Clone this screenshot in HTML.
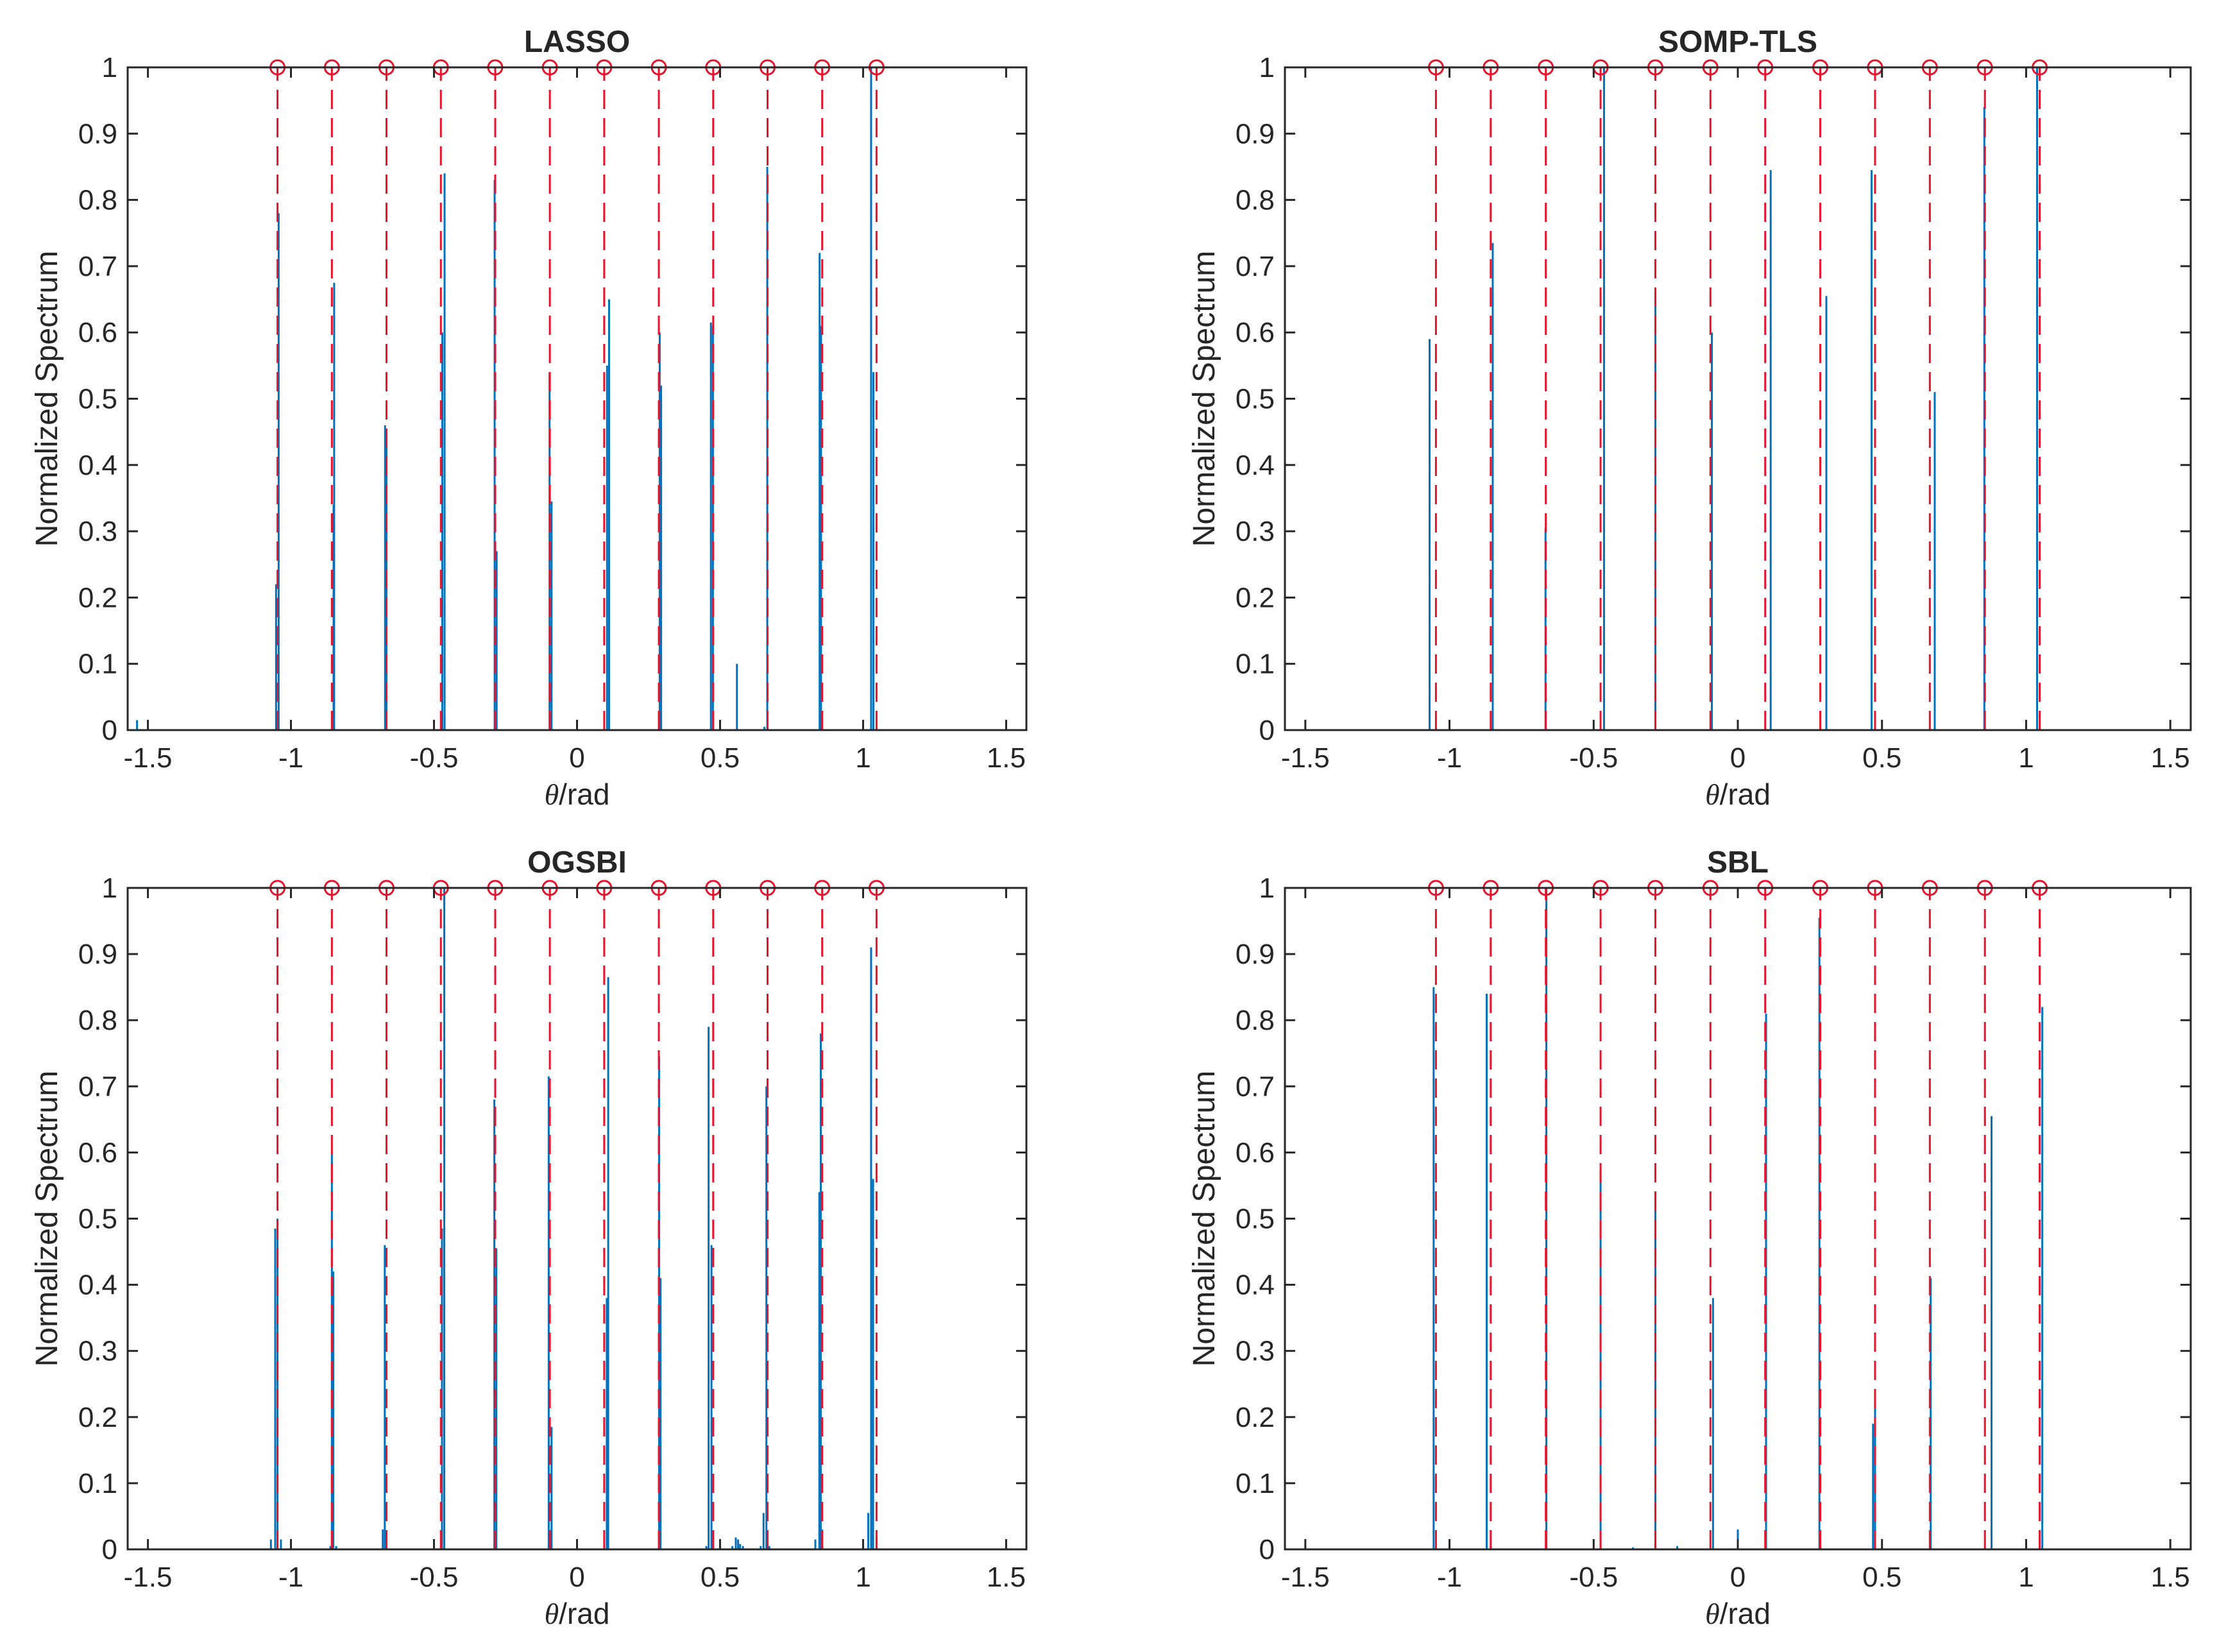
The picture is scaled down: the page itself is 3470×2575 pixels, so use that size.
<!DOCTYPE html>
<html><head><meta charset="utf-8"><style>
html,body{margin:0;padding:0;background:#fff;}
svg{display:block;}
text{font-family:"Liberation Sans","DejaVu Sans",sans-serif;fill:#262626;}
</style></head><body>
<svg id="fig" width="3470" height="2575" viewBox="0 0 3470 2575" xmlns="http://www.w3.org/2000/svg"></svg>
<script>
const trueDOAs=[-1.047,-0.857,-0.666,-0.476,-0.286,-0.095,0.095,0.286,0.476,0.666,0.857,1.047];
const xTicks=[-1.5,-1,-0.5,0,0.5,1,1.5];
const xTickLabels=["-1.5","-1","-0.5","0","0.5","1","1.5"];
const yTicks=[0,0.1,0.2,0.3,0.4,0.5,0.6,0.7,0.8,0.9,1];
const yTickLabels=["0","0.1","0.2","0.3","0.4","0.5","0.6","0.7","0.8","0.9","1"];
const titles=["LASSO","SOMP-TLS","OGSBI","SBL"];
const lassoX=[-1.538,-1.052,-1.043,-0.851,-0.849,-0.671,-0.666,-0.471,-0.463,-0.288,-0.281,-0.096,-0.089,0.105,0.112,0.289,0.294,0.468,0.475,0.559,0.655,0.665,0.848,0.853,1.028,1.036];
const lassoY=[0.015,0.22,0.78,0.34,0.675,0.46,0.45,0.6,0.84,0.83,0.27,0.54,0.345,0.55,0.65,0.6,0.52,0.615,0.61,0.1,0.005,0.85,0.72,0.61,1.0,0.54];
const sompX=[-1.069,-0.85,-0.667,-0.464,-0.286,-0.09,0.114,0.307,0.464,0.683,0.855,1.038];
const sompY=[0.59,0.735,0.305,1.0,0.66,0.6,0.845,0.655,0.845,0.51,0.94,1.0];
const ogsbiX=[-1.07,-1.055,-1.047,-1.035,-0.862,-0.857,-0.852,-0.842,-0.679,-0.672,-0.667,-0.472,-0.464,-0.289,-0.282,-0.099,-0.089,0.104,0.109,0.287,0.292,0.452,0.46,0.47,0.543,0.555,0.563,0.57,0.58,0.642,0.652,0.662,0.672,0.833,0.847,0.852,0.857,1.0,1.018,1.028,1.035,1.047];
const ogsbiY=[0.015,0.485,0.5,0.015,0.005,0.6,0.42,0.005,0.03,0.46,0.02,0.485,1.0,0.68,0.455,0.715,0.185,0.38,0.865,0.745,0.41,0.005,0.79,0.46,0.005,0.018,0.015,0.008,0.005,0.005,0.055,0.7,0.005,0.015,0.54,0.78,0.03,0.005,0.055,0.91,0.56,0.02];
const sblX=[-1.055,-0.871,-0.664,-0.476,-0.364,-0.286,-0.21,-0.086,0.0,0.098,0.283,0.469,0.476,0.669,0.88,1.056];
const sblY=[0.85,0.84,1.0,0.575,0.003,0.54,0.005,0.38,0.03,0.81,0.955,0.19,0.22,0.41,0.655,0.82];

const NS="http://www.w3.org/2000/svg";
const svg=document.getElementById('fig');
function mk(tag,attrs,parent){const e=document.createElementNS(NS,tag);for(const k in attrs)e.setAttribute(k,attrs[k]);(parent||svg).appendChild(e);return e;}
const panels=[
 {L:199,R:1600,T:105,B:1138,xs:lassoX,ys:lassoY,key:'lasso'},
 {L:2003,R:3415,T:105,B:1138,xs:sompX,ys:sompY,key:'somp-tls'},
 {L:199,R:1600,T:1384,B:2415,xs:ogsbiX,ys:ogsbiY,key:'ogsbi'},
 {L:2003,R:3415,T:1384,B:2415,xs:sblX,ys:sblY,key:'sbl'}];
panels.forEach((p,i)=>{
 const g=mk('g',{});
 
 
 const X=v=>p.L+(v+Math.PI/2)/Math.PI*(p.R-p.L);
 const Y=v=>p.B-v*(p.B-p.T);
 p.xs.forEach((xv,j)=>{
  const l=mk('line',{x1:X(xv),x2:X(xv),y1:Y(0),y2:Y(p.ys[j]),stroke:'#0072BD','stroke-width':3},g);
  
  
 });
 trueDOAs.forEach(d=>{
  const l=mk('line',{x1:X(d),x2:X(d),y1:Y(0),y2:Y(1),stroke:'#E8132A','stroke-width':3,'stroke-dasharray':'30 14'},g);
  
  
  const c=mk('circle',{cx:X(d),cy:Y(1),r:11,fill:'none',stroke:'#E8132A','stroke-width':3},g);
  
  
 });
 const box=mk('rect',{x:p.L,y:p.T,width:p.R-p.L,height:p.B-p.T,fill:'none',stroke:'#262626','stroke-width':3},g);
 
 
 xTicks.forEach((t,j)=>{
  const x=X(t);
  mk('line',{x1:x,x2:x,y1:p.B,y2:p.B-16,stroke:'#262626','stroke-width':3},g);
  mk('line',{x1:x,x2:x,y1:p.T,y2:p.T+16,stroke:'#262626','stroke-width':3},g);
  const tx=mk('text',{x:x,y:p.B+58,'font-size':44,'text-anchor':'middle'},g);
  tx.textContent=xTickLabels[j];
  
  
 });
 yTicks.forEach((t,j)=>{
  const y=Y(t);
  mk('line',{x1:p.L,x2:p.L+16,y1:y,y2:y,stroke:'#262626','stroke-width':3},g);
  mk('line',{x1:p.R,x2:p.R-16,y1:y,y2:y,stroke:'#262626','stroke-width':3},g);
  const tx=mk('text',{x:p.L-16,y:y+15,'font-size':44,'text-anchor':'end'},g);
  tx.textContent=yTickLabels[j];
  
  
 });
 const cx=(p.L+p.R)/2;
 const t=mk('text',{x:cx,y:p.T-24,'font-size':48,'font-weight':'bold','text-anchor':'middle',fill:'#000'},g);
 t.textContent=titles[i];
 
 
 const xl=mk('text',{x:cx,y:p.B+116,'font-size':46,'text-anchor':'middle'},g);
 xl.innerHTML='<tspan font-family="Liberation Serif, serif" font-style="italic">θ</tspan>/rad';
 
 
 const ly=(p.T+p.B)/2, lx=p.L-110;
 const yl=mk('text',{x:lx,y:ly,'font-size':48,'text-anchor':'middle',transform:`rotate(-90 ${lx} ${ly})`},g);
 yl.textContent='Normalized Spectrum';
 
 
});
</script>
</body></html>
